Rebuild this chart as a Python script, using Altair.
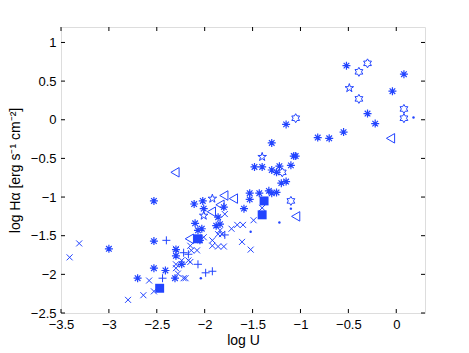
import altair as alt
import pandas as pd

BLUE = "#2244ff"

# asterisk markers
ast_x = [-0.52, 0.08, -0.04, -0.30, -0.22, -1.15, -0.55, -0.82, -0.70, -1.30,
         -1.48, -1.40, -1.30, -1.22, -1.10, -1.07, -1.05, -1.25, -1.20, -1.15,
         -1.33, -1.30, -1.25, -1.53, -1.53, -1.43, -1.59, -1.80, -2.53, -2.11,
         -2.02, -2.01, -2.10, -2.03, -1.86, -1.84, -1.88, -2.07, -2.05, -2.30,
         -2.53, -2.53, -2.41, -2.70, -2.31, -3.00, -2.24, -2.30]
ast_y = [0.70, 0.59, 0.37, 0.08, -0.05, -0.06, -0.16, -0.23, -0.24, -0.30,
         -0.61, -0.61, -0.65, -0.60, -0.59, -0.47, -0.47, -0.68, -0.82, -0.80,
         -0.92, -0.95, -0.94, -0.95, -1.03, -0.95, -1.15, -1.13, -1.05, -1.09,
         -1.05, -1.15, -1.34, -1.41, -1.26, -1.35, -1.37, -1.43, -1.56, -1.68,
         -1.57, -1.92, -1.95, -2.05, -2.05, -1.67, -1.87, -1.76]

# hexagram markers
hex_x = [-0.39, -0.30, -0.39, 0.08, 0.08, -1.05, -1.19, -1.10]
hex_y = [0.62, 0.73, 0.27, 0.14, 0.02, 0.02, -0.68, -1.05]

# pentagram markers
pen_x = [-0.49, -1.40, -1.92, -2.01]
pen_y = [0.41, -0.48, -1.02, -1.24]

# left triangles
tri_x = [-0.06, -2.31, -1.80, -1.70, -1.84, -1.93, -1.05, -2.16]
tri_y = [-0.24, -0.68, -0.98, -1.02, -1.10, -1.19, -1.25, -1.54]

# filled squares
sq_x = [-1.38, -1.40, -2.07, -2.47]
sq_y = [-1.05, -1.23, -1.54, -2.18]

# dots
dot_x = [0.18, -1.10, -1.22, -1.52, -2.04]
dot_y = [0.03, -1.15, -1.33, -1.45, -2.05]

# x markers
xm_x = [-1.40, -1.49, -1.66, -1.60, -1.72, -1.61, -1.52, -1.79, -1.84, -1.86,
        -1.82, -2.01, -1.92, -1.92, -1.86, -1.80, -2.15, -2.14, -2.08, -2.17,
        -2.24, -2.15, -2.30, -2.30, -2.28, -2.22, -2.20, -2.58, -2.53, -2.64,
        -2.80, -3.41, -3.31, -2.30]
xm_y = [-1.14, -1.30, -1.36, -1.36, -1.41, -1.58, -1.68, -1.22, -1.43, -1.48,
        -1.48, -1.52, -1.56, -1.63, -1.64, -1.64, -1.63, -1.69, -1.69, -1.82,
        -1.82, -1.84, -1.87, -1.92, -1.99, -2.05, -2.05, -2.08, -2.22, -2.27,
        -2.33, -1.78, -1.60, -1.67]

# plus markers
pl_x = [-1.79, -2.40, -2.22, -2.17, -2.07, -1.99, -1.92, -2.44]
pl_y = [-1.49, -1.56, -1.72, -1.74, -1.87, -1.98, -1.96, -2.05]

x_ticks = [-3.5, -3.0, -2.5, -2.0, -1.5, -1.0, -0.5, 0.0]
y_ticks = [-2.5, -2.0, -1.5, -1.0, -0.5, 0.0, 0.5, 1.0]

W, H = 364, 286
FONT = "Liberation Sans"

xs = alt.Scale(domain=[-3.5, 0.3], nice=False, zero=False)
ys = alt.Scale(domain=[-2.5, 1.2], nice=False, zero=False)

P_AST = "M0,-1L0,1M-1,0L1,0M-0.7,-0.7L0.7,0.7M-0.7,0.7L0.7,-0.7"
P_X = "M-1,-1L1,1M-1,1L1,-1"
P_PLUS = "M-1,0L1,0M0,-1L0,1"
P_HEX = ("M0,-1L0.289,-0.5L0.866,-0.5L0.577,0L0.866,0.5L0.289,0.5L0,1"
         "L-0.289,0.5L-0.866,0.5L-0.577,0L-0.866,-0.5L-0.289,-0.5Z")
P_PEN = ("M0,-1L0.225,-0.309L0.951,-0.309L0.363,0.118L0.588,0.809L0,0.382"
         "L-0.588,0.809L-0.363,0.118L-0.951,-0.309L-0.225,-0.309Z")


def df(xv, yv):
    return pd.DataFrame({"x": xv, "y": yv})


x_axis = alt.Axis(values=x_ticks, grid=False, ticks=False, domain=False,
                  labelFont=FONT, labelFontSize=13, labelColor="black",
                  labelPadding=5, title="log U", titleFont=FONT,
                  titleFontSize=14, titleFontWeight="normal",
                  titleColor="black", titlePadding=2, labelFlush=False,
                  format=".1~f")
y_axis = alt.Axis(values=y_ticks, grid=False, ticks=False, domain=False,
                  labelFont=FONT, labelFontSize=13, labelColor="black",
                  labelPadding=5, title="log Hα [erg s⁻¹ cm⁻²]",
                  titleFont=FONT, titleFontSize=14, titleFontWeight="normal",
                  titleColor="black", titlePadding=8, labelFlush=False,
                  format=".1~f")

X = alt.X("x:Q", scale=xs, axis=x_axis)
Y = alt.Y("y:Q", scale=ys, axis=y_axis)


def pts(d, shape, size, filled, sw=1.0):
    return alt.Chart(d).mark_point(shape=shape, size=size, filled=filled,
                                   color=BLUE, strokeWidth=sw, opacity=1).encode(
        x=X, y=Y)


layers = [
    pts(df(xm_x, xm_y), P_X, 36, False),
    pts(df(pl_x, pl_y), P_PLUS, 64, False),
    pts(df(ast_x, ast_y), P_AST, 64, False, 1.2),
    pts(df(hex_x, hex_y), P_HEX, 81, False),
    pts(df(pen_x, pen_y), P_PEN, 81, False),
    pts(df(tri_x, tri_y), "triangle-left", 90, False),
    pts(df(sq_x, sq_y), "square", 80, True),
    pts(df(dot_x, dot_y), "circle", 6, True),
]

xt = pd.DataFrame({"x": x_ticks})
yt = pd.DataFrame({"y": y_ticks})
tick_layers = [
    alt.Chart(xt).mark_rule(color="black", strokeWidth=1).encode(
        x=X, y=alt.value(H), y2=alt.value(H - 4)),
    alt.Chart(xt).mark_rule(color="black", strokeWidth=1).encode(
        x=X, y=alt.value(0), y2=alt.value(4)),
    alt.Chart(yt).mark_rule(color="black", strokeWidth=1).encode(
        y=Y, x=alt.value(0), x2=alt.value(4)),
    alt.Chart(yt).mark_rule(color="black", strokeWidth=1).encode(
        y=Y, x=alt.value(W), x2=alt.value(W - 4)),
]

chart = alt.layer(*layers, *tick_layers).properties(
    width=W, height=H,
    padding={"left": 53, "top": 19, "right": 30, "bottom": 38},
    autosize=alt.AutoSizeParams(type="none"),
).configure_view(stroke="black", strokeWidth=1).configure(background="white")

chart.save("out.html", embed_options={"renderer": "svg", "actions": False})
